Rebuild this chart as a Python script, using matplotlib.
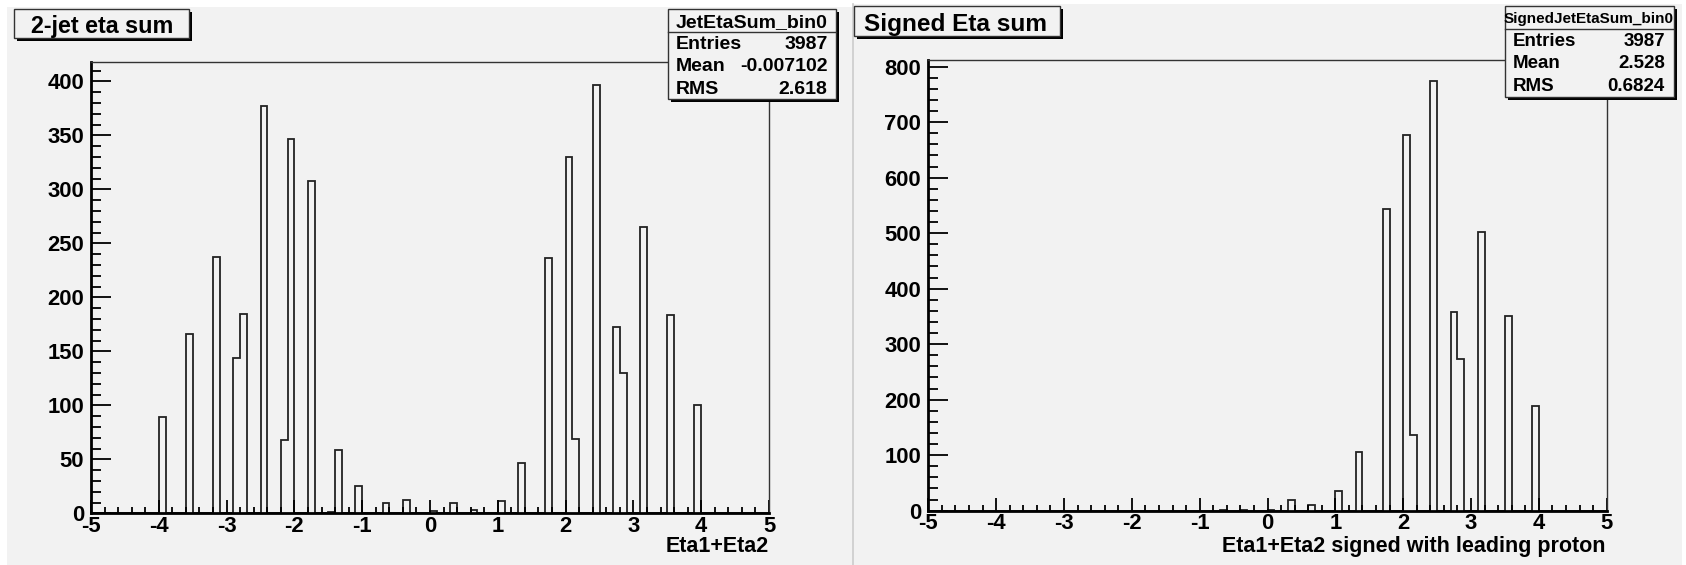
import numpy as np
import matplotlib
matplotlib.use("Agg")
import matplotlib.pyplot as plt
from matplotlib.patches import Rectangle
from matplotlib.lines import Line2D
from matplotlib.ticker import MultipleLocator

plt.rcParams['font.family'] = ['Liberation Sans', 'DejaVu Sans']
plt.rcParams['font.weight'] = 'bold'
plt.rcParams['axes.unicode_minus'] = False

# ---------------- data ----------------
x_min, x_max, n_bins = -5.0, 5.0, 100

left_title = "2-jet eta sum"
left_name = "JetEtaSum_bin0"
left_xlabel = "Eta1+Eta2"
left_stats = [("Entries", "3987"), ("Mean", "-0.007102"), ("RMS", "2.618")]
left_bin_low = [-4.0, -3.6, -3.2, -2.9, -2.8, -2.5, -2.2, -2.1, -1.8, -1.5, -1.4,
                -1.1, -0.7, -0.4, 0.0, 0.3, 0.6, 1.0, 1.3, 1.7, 2.0, 2.1, 2.4,
                2.7, 2.8, 3.1, 3.5, 3.9]
left_counts = [89, 166, 237, 144, 185, 377, 68, 347, 308, 1, 59,
               25, 10, 12, 2, 10, 3, 11, 47, 236, 330, 69, 397,
               173, 130, 265, 184, 100]
left_ymax = 418
left_major, left_minor = 50, 10

right_title = "Signed Eta sum"
right_name = "SignedJetEtaSum_bin0"
right_xlabel = "Eta1+Eta2 signed with leading proton"
right_stats = [("Entries", "3987"), ("Mean", "2.528"), ("RMS", "0.6824")]
right_bin_low = [-0.7, -0.4, 0.0, 0.3, 0.6, 1.0, 1.3, 1.7, 2.0, 2.1, 2.4,
                 2.7, 2.8, 3.1, 3.5, 3.9]
right_counts = [1, 2, 2, 19, 10, 36, 106, 543, 676, 137, 774,
                358, 273, 502, 350, 189]
right_ymax = 812
right_major, right_minor = 100, 20

# ---------------- figure ----------------
W, H = 1686, 565
DPI = 100
fig = plt.figure(figsize=(W / DPI, H / DPI), dpi=DPI, facecolor='white')
BG = '#f2f2f2'
LINE = '#222222'


def fx(px):
    return px / W


def fy(py):
    return 1 - py / H


def rect_px(x0, y0, x1, y1, **kw):
    r = Rectangle((fx(x0), fy(y1)), fx(x1) - fx(x0), fy(y0) - fy(y1),
                  transform=fig.transFigure, **kw)
    fig.add_artist(r)
    return r


# pad backgrounds
rect_px(7, 7, 853, 565, facecolor=BG, edgecolor='none', zorder=0)
rect_px(853, 4, 1682, 565, facecolor=BG, edgecolor='none', zorder=0)
fig.add_artist(Line2D([fx(853.3), fx(853.3)], [fy(4), fy(565)],
                      transform=fig.transFigure, color='#cccccc', lw=1.2, zorder=1))


def make_hist(bin_low, counts):
    vals = np.zeros(n_bins)
    idx = np.round((np.array(bin_low) - x_min) / ((x_max - x_min) / n_bins)).astype(int)
    vals[idx] = counts
    return vals


def panel(ax_px, title, title_box, title_pos, title_size,
          name, name_size, stats_box, sep_y, name_base,
          rows, row_base, row_x, stat_size,
          xlabel, xlabel_x, bin_low, counts, ymax, major, minor):
    x0, y_top, x1, y_bot = ax_px
    ax = fig.add_axes([fx(x0), fy(y_bot), fx(x1) - fx(x0), fy(y_top) - fy(y_bot)])
    ax.set_facecolor(BG)
    edges = np.linspace(x_min, x_max, n_bins + 1)
    ax.stairs(make_hist(bin_low, counts), edges, color=LINE, lw=1.3, baseline=0)
    ax.set_xlim(x_min, x_max)
    ax.set_ylim(0, ymax)
    ax.xaxis.set_major_locator(MultipleLocator(1))
    ax.xaxis.set_minor_locator(MultipleLocator(0.2))
    ax.yaxis.set_major_locator(MultipleLocator(major))
    ax.yaxis.set_minor_locator(MultipleLocator(minor))
    ax.tick_params(axis='y', which='major', direction='in', length=14.4, width=1.3,
                   pad=5, labelsize=15.8, colors='black')
    ax.tick_params(axis='y', which='minor', direction='in', length=7.2, width=1.3)
    ax.tick_params(axis='x', which='major', direction='in', length=9.4, width=1.3,
                   pad=2, labelsize=15.8)
    ax.tick_params(axis='x', which='minor', direction='in', length=4.3, width=1.3)
    for lab in ax.get_xticklabels() + ax.get_yticklabels():
        lab.set_fontweight('bold')
    for s in ('left', 'bottom'):
        ax.spines[s].set_linewidth(2.0)
        ax.spines[s].set_color('black')
    for s in ('top', 'right'):
        ax.spines[s].set_linewidth(1.0)
        ax.spines[s].set_color('#333333')

    # title box with shadow
    tx0, ty0, tx1, ty1 = title_box
    rect_px(tx0 + 3, ty0 + 3, tx1 + 3, ty1 + 3, facecolor='black', edgecolor='none', zorder=5)
    rect_px(tx0, ty0, tx1, ty1, facecolor=BG, edgecolor='#333333', lw=1.0, zorder=6)
    fig.text(fx(title_pos[0]), fy(title_pos[1]), title, fontsize=title_size,
             fontweight='bold', ha='left', va='baseline', zorder=7)

    # stats box with shadow
    sx0, sy0, sx1, sy1 = stats_box
    rect_px(sx0 + 3, sy0 + 3, sx1 + 3, sy1 + 3, facecolor='black', edgecolor='none', zorder=5)
    rect_px(sx0, sy0, sx1, sy1, facecolor=BG, edgecolor='#333333', lw=1.0, zorder=6)
    fig.add_artist(Line2D([fx(sx0), fx(sx1)], [fy(sep_y), fy(sep_y)],
                          transform=fig.transFigure, color='#333333', lw=1.0, zorder=7))
    fig.text(fx((sx0 + sx1) / 2), fy(name_base), name, fontsize=name_size,
             fontweight='bold', ha='center', va='baseline', zorder=7)
    for (lab, val), yb in zip(rows, row_base):
        fig.text(fx(row_x[0]), fy(yb), lab, fontsize=stat_size, fontweight='bold',
                 ha='left', va='baseline', zorder=7)
        fig.text(fx(row_x[1]), fy(yb), val, fontsize=stat_size, fontweight='bold',
                 ha='right', va='baseline', zorder=7)

    fig.text(fx(xlabel_x), fy(552), xlabel, fontsize=15.5, fontweight='bold',
             ha='right', va='baseline')
    return ax


panel((91, 62, 769, 513.3), left_title, (14.3, 9.3, 188.5, 38.3), (31, 33.3), 16.8,
      left_name, 14, (667.7, 9.3, 835.7, 99.3), 32.3, 27.3,
      left_stats, (49.3, 70.7, 94.0), (675.3, 827.7), 14,
      left_xlabel, 769, left_bin_low, left_counts,
      left_ymax, left_major, left_minor)

panel((928.3, 60, 1606.7, 510.7), right_title, (854.3, 6, 1060.3, 36.3), (864, 31), 17.6,
      right_name, 11, (1504.7, 6, 1673.5, 96.7), 29.3, 23.3,
      right_stats, (46.0, 67.7, 91.0), (1512.7, 1665), 13.5,
      right_xlabel, 1605, right_bin_low, right_counts,
      right_ymax, right_major, right_minor)

fig.savefig("out.png", dpi=DPI, facecolor=fig.get_facecolor())
